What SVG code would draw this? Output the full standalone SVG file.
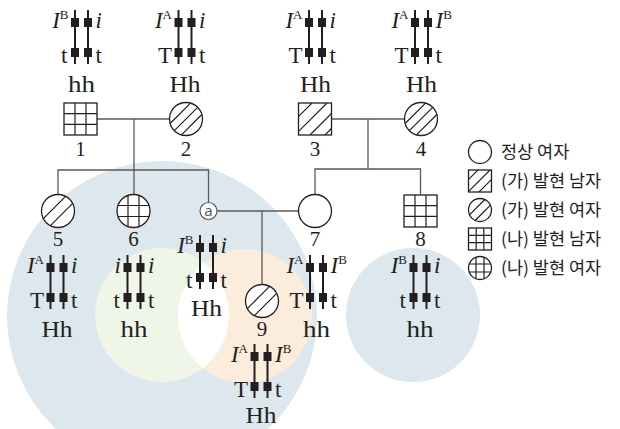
<svg xmlns="http://www.w3.org/2000/svg" width="620" height="429" viewBox="0 0 620 429">
<style>
.bg{fill:#ffffff}
.sym{fill:#ffffff;stroke:#231f20;stroke-width:1.3}
.hat{stroke:#231f20;stroke-width:1.2;fill:none}
.con{fill:none;stroke:#5a5a5a;stroke-width:1.3}
.chr line{stroke:#231f20;stroke-width:2}
.chr rect{fill:#231f20}
.g{font-family:"Liberation Serif","Times New Roman",serif;font-size:23px;fill:#231f20}
.L{text-anchor:end}
.R{text-anchor:start}
.M{text-anchor:middle}
.it{font-style:italic}
.sup{font-size:13px;font-style:normal}
.num{font-family:"Liberation Serif","Times New Roman",serif;font-size:21px;fill:#231f20;text-anchor:middle}
.leg{font-family:"Noto Sans CJK KR","Noto Sans",sans-serif;font-size:17.5px;fill:#231f20}
</style>
<defs>
<g id="chr" class="chr">
<line x1="-6.5" y1="0" x2="-6.5" y2="54"/>
<line x1="6.5" y1="0" x2="6.5" y2="54"/>
<rect x="-10.5" y="8" width="8" height="9"/>
<rect x="2.5" y="8" width="8" height="9"/>
<rect x="-10.5" y="38" width="8" height="9"/>
<rect x="2.5" y="38" width="8" height="9"/>
</g>
<clipPath id="cg"><circle cx="162" cy="315" r="67"/></clipPath>
<clipPath id="c3"><rect x="298.5" y="103" width="33" height="32"/></clipPath>
<clipPath id="cl2"><rect x="468.5" y="170" width="23" height="22"/></clipPath>
</defs>
<rect x="0" y="0" width="620" height="429" class="bg"/>
<g id="background">
<circle cx="162" cy="316" r="155" fill="#dce7ee"/>
<circle cx="413" cy="315" r="67" fill="#dce7ee"/>
<circle cx="162" cy="315" r="67" fill="#eff5e7"/>
<circle cx="245" cy="316" r="67" fill="#fcecdc"/>
<circle cx="245" cy="316" r="67" fill="#ffffff" clip-path="url(#cg)"/>
</g>
<g id="connectors" class="con">
<path d="M97,119 H169.5"/>
<path d="M134,119 V194.5"/>
<path d="M58,195 V170 H208.5 V202.5"/>
<path d="M331.5,119 H404.5"/>
<path d="M368,119 V169"/>
<path d="M315,194.5 V169 H420.5 V195"/>
<path d="M217,211 H298.5"/>
<path d="M262,211 V284.5"/>
</g>
<g id="node1">
<rect x="64" y="103" width="33" height="32" class="sym"/>
<path class="hat" d="M75,103 V135 M86,103 V135 M64,113.7 H97 M64,124.3 H97"/>
<text x="80.5" y="156" class="num">1</text>
<g transform="translate(81.5,10)">
<use href="#chr"/>
<text x="-13" y="18" class="g L"><tspan class="it">I</tspan><tspan class="sup" dy="-9">B</tspan></text>
<text x="14" y="18" class="g R it">i</text>
<text x="-14" y="53" class="g L">t</text>
<text x="14" y="53" class="g R">t</text>
<text x="0" y="82" class="g M" textLength="27" lengthAdjust="spacingAndGlyphs">hh</text>
</g>
</g>
<g id="node2">
<circle cx="186" cy="119" r="16.5" class="sym"/>
<g transform="translate(186,119)" class="hat"><path d="M-15.86,4.54 L4.54,-15.86 M-11.67,11.67 L11.67,-11.67 M-4.54,15.86 L15.86,-4.54"/></g>
<text x="186" y="156" class="num">2</text>
<g transform="translate(185,10)">
<use href="#chr"/>
<text x="-13" y="18" class="g L"><tspan class="it">I</tspan><tspan class="sup" dy="-9">A</tspan></text>
<text x="14" y="18" class="g R it">i</text>
<text x="-13" y="53" class="g L">T</text>
<text x="14" y="53" class="g R">t</text>
<text x="0" y="82" class="g M" textLength="31" lengthAdjust="spacingAndGlyphs">Hh</text>
</g>
</g>
<g id="node3">
<rect x="298.5" y="103" width="33" height="32" class="sym"/>
<path class="hat" clip-path="url(#c3)" d="M296,119 L312,103 M296,134 L327,103 M310,135 L332,113 M325,135 L332,128"/>
<text x="315" y="156" class="num">3</text>
<g transform="translate(315.5,10)">
<use href="#chr"/>
<text x="-13" y="18" class="g L"><tspan class="it">I</tspan><tspan class="sup" dy="-9">A</tspan></text>
<text x="14" y="18" class="g R it">i</text>
<text x="-13" y="53" class="g L">T</text>
<text x="14" y="53" class="g R">t</text>
<text x="0" y="82" class="g M" textLength="31" lengthAdjust="spacingAndGlyphs">Hh</text>
</g>
</g>
<g id="node4">
<circle cx="421" cy="119" r="16.5" class="sym"/>
<g transform="translate(421,119)" class="hat"><path d="M-15.86,4.54 L4.54,-15.86 M-11.67,11.67 L11.67,-11.67 M-4.54,15.86 L15.86,-4.54"/></g>
<text x="421" y="156" class="num">4</text>
<g transform="translate(421.5,10)">
<use href="#chr"/>
<text x="-13" y="18" class="g L"><tspan class="it">I</tspan><tspan class="sup" dy="-9">A</tspan></text>
<text x="14" y="18" class="g R"><tspan class="it">I</tspan><tspan class="sup" dy="-9">B</tspan></text>
<text x="-13" y="53" class="g L">T</text>
<text x="14" y="53" class="g R">t</text>
<text x="0" y="82" class="g M" textLength="31" lengthAdjust="spacingAndGlyphs">Hh</text>
</g>
</g>
<g id="node5">
<circle cx="58" cy="211" r="16.5" class="sym"/>
<g transform="translate(58,211)" class="hat"><path d="M-14.66,7.58 L7.58,-14.66 M-7.58,14.66 L14.66,-7.58"/></g>
<text x="58" y="246" class="num">5</text>
<g transform="translate(57,255)">
<use href="#chr"/>
<text x="-13" y="18" class="g L"><tspan class="it">I</tspan><tspan class="sup" dy="-9">A</tspan></text>
<text x="14" y="18" class="g R it">i</text>
<text x="-13" y="53" class="g L">T</text>
<text x="14" y="53" class="g R">t</text>
<text x="0" y="82" class="g M" textLength="31" lengthAdjust="spacingAndGlyphs">Hh</text>
</g>
</g>
<g id="node6">
<circle cx="133.5" cy="211" r="16.5" class="sym"/>
<g transform="translate(133.5,211)" class="hat"><path d="M-5.5,-15.56 V15.56 M5.5,-15.56 V15.56 M-15.56,-5.5 H15.56 M-15.56,5.5 H15.56"/></g>
<text x="133.5" y="246" class="num">6</text>
<g transform="translate(134,255)">
<use href="#chr"/>
<text x="-13" y="18" class="g L it">i</text>
<text x="14" y="18" class="g R it">i</text>
<text x="-14" y="53" class="g L">t</text>
<text x="14" y="53" class="g R">t</text>
<text x="0" y="82" class="g M" textLength="27" lengthAdjust="spacingAndGlyphs">hh</text>
</g>
</g>
<g id="nodeA">
<circle cx="208.5" cy="211" r="8.5" fill="#ffffff" stroke="#5a5a5a" stroke-width="1.2"/>
<text x="208.5" y="216" font-family="Noto Sans, sans-serif" font-size="15" fill="#5a5a5a" text-anchor="middle">a</text>
<g transform="translate(206.5,235)">
<use href="#chr"/>
<text x="-13" y="18" class="g L"><tspan class="it">I</tspan><tspan class="sup" dy="-9">B</tspan></text>
<text x="14" y="18" class="g R it">i</text>
<text x="-14" y="53" class="g L">t</text>
<text x="14" y="53" class="g R">t</text>
<text x="0" y="81" class="g M" textLength="31" lengthAdjust="spacingAndGlyphs">Hh</text>
</g>
</g>
<g id="node7">
<circle cx="315" cy="211" r="16.5" class="sym"/>
<text x="315" y="246" class="num">7</text>
<g transform="translate(316.5,255)">
<use href="#chr"/>
<text x="-13" y="18" class="g L"><tspan class="it">I</tspan><tspan class="sup" dy="-9">A</tspan></text>
<text x="14" y="18" class="g R"><tspan class="it">I</tspan><tspan class="sup" dy="-9">B</tspan></text>
<text x="-13" y="53" class="g L">T</text>
<text x="14" y="53" class="g R">t</text>
<text x="0" y="82" class="g M" textLength="27" lengthAdjust="spacingAndGlyphs">hh</text>
</g>
</g>
<g id="node8">
<rect x="404" y="195" width="33" height="32" class="sym"/>
<path class="hat" d="M415,195 V227 M426,195 V227 M404,205.7 H437 M404,216.3 H437"/>
<text x="420.5" y="246" class="num">8</text>
<g transform="translate(420,255)">
<use href="#chr"/>
<text x="-13" y="18" class="g L"><tspan class="it">I</tspan><tspan class="sup" dy="-9">B</tspan></text>
<text x="14" y="18" class="g R it">i</text>
<text x="-14" y="53" class="g L">t</text>
<text x="14" y="53" class="g R">t</text>
<text x="0" y="82" class="g M" textLength="27" lengthAdjust="spacingAndGlyphs">hh</text>
</g>
</g>
<g id="node9">
<circle cx="262" cy="301" r="16.5" class="sym"/>
<g transform="translate(262,301)" class="hat"><path d="M-14.66,7.58 L7.58,-14.66 M-7.58,14.66 L14.66,-7.58"/></g>
<text x="262" y="336" class="num">9</text>
<g transform="translate(261,344)">
<use href="#chr"/>
<text x="-13" y="18" class="g L"><tspan class="it">I</tspan><tspan class="sup" dy="-9">A</tspan></text>
<text x="14" y="18" class="g R"><tspan class="it">I</tspan><tspan class="sup" dy="-9">B</tspan></text>
<text x="-13" y="53" class="g L">T</text>
<text x="14" y="53" class="g R">t</text>
<text x="0" y="79" class="g M" textLength="31" lengthAdjust="spacingAndGlyphs">Hh</text>
</g>
</g>
<g id="legend">
<circle cx="480" cy="152" r="11.5" class="sym"/>
<text x="501" y="158" class="leg">정상 여자</text>
<rect x="468.5" y="170" width="23" height="22" class="sym"/>
<path class="hat" clip-path="url(#cl2)" d="M466,182 L480,168 M466,194 L492,168 M477,194 L493,178"/>
<text x="501" y="187" class="leg">(가) 발현 남자</text>
<circle cx="480" cy="210" r="11.5" class="sym"/>
<g transform="translate(480,210)" class="hat"><path d="M-10.46,4.8 L4.8,-10.46 M-4.8,10.46 L10.46,-4.8"/></g>
<text x="501" y="216" class="leg">(가) 발현 여자</text>
<rect x="468.5" y="228" width="23" height="22" class="sym"/>
<path class="hat" d="M476.2,228 V250 M483.8,228 V250 M468.5,235.3 H491.5 M468.5,242.7 H491.5"/>
<text x="501" y="245" class="leg">(나) 발현 남자</text>
<circle cx="480" cy="268" r="11.5" class="sym"/>
<g transform="translate(480,268)" class="hat"><path d="M-4,-10.78 V10.78 M4,-10.78 V10.78 M-10.78,-4 H10.78 M-10.78,4 H10.78"/></g>
<text x="501" y="274" class="leg">(나) 발현 여자</text>
</g>
</svg>
